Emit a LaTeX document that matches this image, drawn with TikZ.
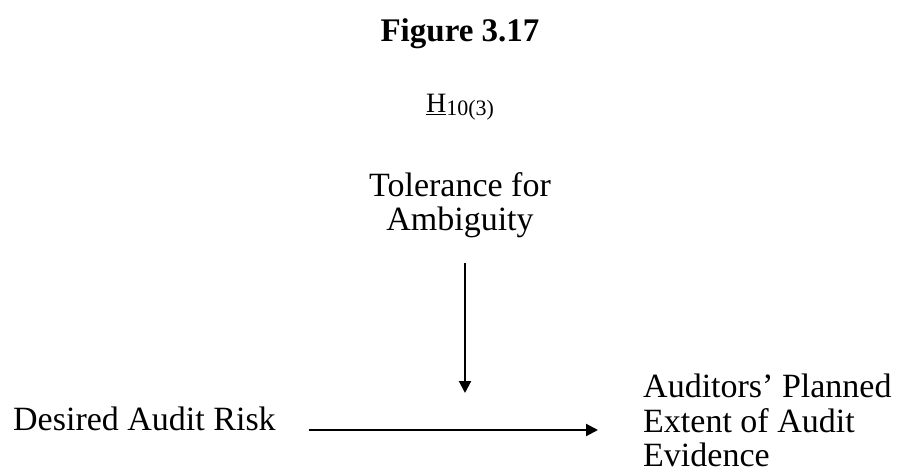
\documentclass[tikz,border=0pt]{standalone}
\usepackage{fontspec}
\setmainfont{Liberation Serif}
\usetikzlibrary{arrows.meta}
\begin{document}
\begin{tikzpicture}[x=1pt,y=-1pt,
  lbl/.style={inner sep=0pt,font=\fontsize{34}{34.5}\selectfont},
  arr/.style={line width=2.1pt,-{Triangle[length=12pt,width=12pt]}}]
\useasboundingbox (0,0) rectangle (899,473);
\node[inner sep=0pt,anchor=base,font=\bfseries\fontsize{33}{36}\selectfont] (title) at (460,42) {Figure 3.17};
\node[inner sep=0pt,anchor=base,font=\fontsize{28}{30}\selectfont] (hyp) at (460,113)
  {\underline{H}\raisebox{-3pt}{\fontsize{22}{24}\selectfont 10(3)}};
\node[lbl,align=center,anchor=north] (tol) at (460,172) {Tolerance for\\Ambiguity};
\node[lbl,anchor=base west] (dar) at (13,430) {Desired Audit Risk};
\node[lbl,align=left,anchor=north west] (aud) at (643,374) {Auditors' Planned\\Extent of Audit\\Evidence};
\coordinate (mod) at (465,393);
\draw[arr] (tol.south -| mod) ++(0,25) -- (mod);
\draw[arr,shorten <=33pt,shorten >=45pt] (dar.base east) -- (dar.base east -| aud.west);
\end{tikzpicture}
\end{document}
